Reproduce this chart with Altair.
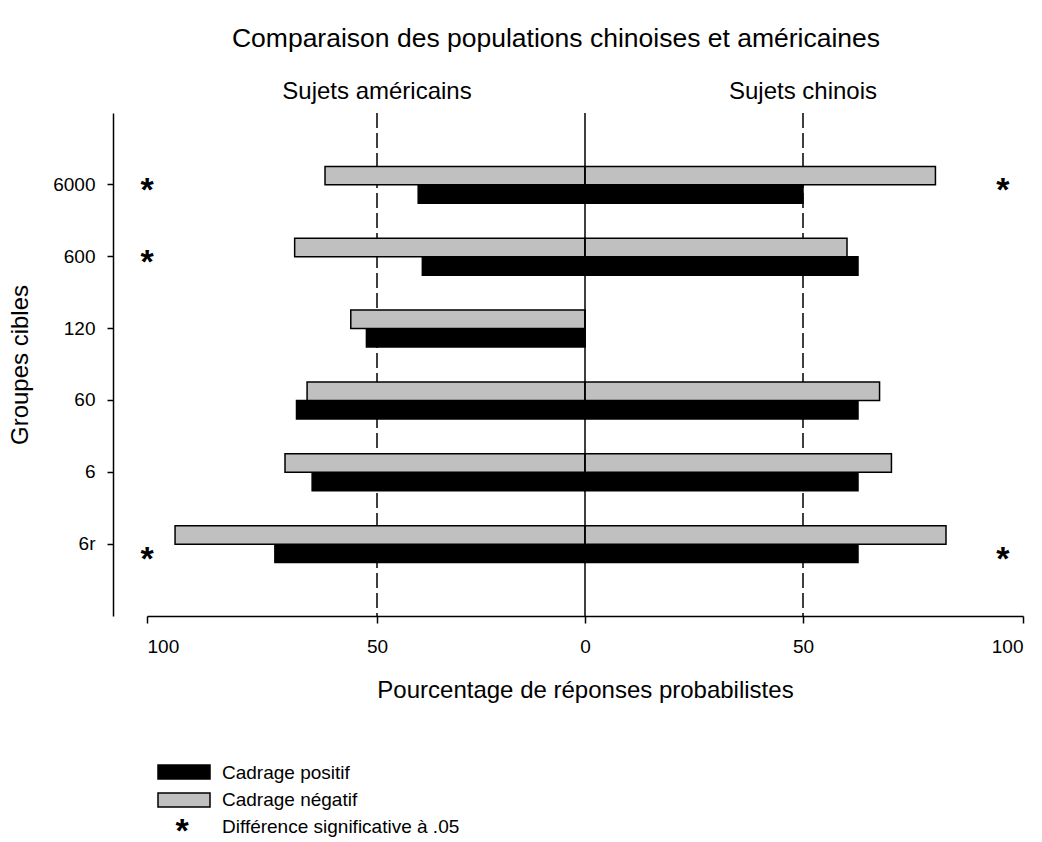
import altair as alt
import pandas as pd

# Target groups, top to bottom
groupes = ["6000", "600", "120", "60", "6", "6r"]

# Percentage of probabilistic answers
americains_positif = [40.1, 39.1, 52.3, 67.5, 64.1, 72.2]
americains_negatif = [61.3, 67.9, 55.7, 65.2, 70.0, 93.9]
chinois_positif = [50.0, 62.5, 0.0, 62.5, 62.5, 62.5]
chinois_negatif = [80.1, 60.0, 0.0, 67.4, 70.1, 82.5]

# Rows with a significant difference (.05), per side
signif_americains = ["6000", "600", "6r"]
signif_chinois = ["6000", "6r"]

cadrages = ["Cadrage négatif", "Cadrage positif"]
couleurs = ["#c0c0c0", "#000000"]
legende_signif = "Différence significative à .05"

rows = []
for i, g in enumerate(groupes):
    rows.append({"groupe": g, "cadrage": "Cadrage positif", "valeur": -americains_positif[i]})
    rows.append({"groupe": g, "cadrage": "Cadrage négatif", "valeur": -americains_negatif[i]})
    rows.append({"groupe": g, "cadrage": "Cadrage positif", "valeur": chinois_positif[i]})
    rows.append({"groupe": g, "cadrage": "Cadrage négatif", "valeur": chinois_negatif[i]})
bars_df = pd.DataFrame(rows)

stars_df = pd.DataFrame(
    [{"groupe": g, "valeur": -100} for g in signif_americains]
    + [{"groupe": g, "valeur": 95.4} for g in signif_chinois]
)
stars_df["etoile"] = "*"

headers_df = pd.DataFrame({"valeur": [-50, 50], "texte": ["Sujets américains", "Sujets chinois"]})
guides_df = pd.DataFrame({"valeur": [-50, 50]})
zero_df = pd.DataFrame({"valeur": [0]})

FONT = "Liberation Sans"

x_scale = alt.Scale(domain=[-100, -50, 0, 50, 100], range=[0, 230, 438, 656, 876])
y_scale = alt.Scale(domain=groupes, paddingInner=0.486, paddingOuter=0.743)

x_axis = alt.Axis(
    values=[-100, -50, 0, 50, 100],
    labelExpr="abs(datum.value)",
    title="Pourcentage de réponses probabilistes",
    grid=False,
    tickSize=7,
    labelPadding=14,
    labelFontSize=19,
    titleFontSize=24,
    titleFontWeight="normal",
    titlePadding=22,
    domainColor="black",
    tickColor="black",
    labelColor="black",
    titleColor="black",
    domainWidth=1.5,
    tickWidth=1.5,
)
y_axis = alt.Axis(
    title="Groupes cibles",
    offset=34,
    grid=False,
    tickSize=6,
    labelPadding=12,
    labelFontSize=19,
    titleFontSize=24,
    titleFontWeight="normal",
    titlePadding=20,
    domainColor="black",
    tickColor="black",
    labelColor="black",
    titleColor="black",
    domainWidth=1.5,
    tickWidth=1.5,
)

guides = alt.Chart(guides_df).mark_rule(
    color="black", strokeWidth=1.5, strokeDash=[15, 5]
).encode(x=alt.X("valeur:Q", scale=x_scale, axis=x_axis))

bars = alt.Chart(bars_df).mark_bar(stroke="black", strokeWidth=1.5).encode(
    x=alt.X("valeur:Q", scale=x_scale, axis=x_axis),
    y=alt.Y("groupe:N", scale=y_scale, sort=groupes, axis=y_axis),
    yOffset=alt.YOffset("cadrage:N", sort=cadrages, scale=alt.Scale(paddingInner=0, paddingOuter=0)),
    color=alt.Color("cadrage:N", scale=alt.Scale(domain=cadrages, range=couleurs), legend=None),
)

zero = alt.Chart(zero_df).mark_rule(color="black", strokeWidth=1.5).encode(
    x=alt.X("valeur:Q", scale=x_scale)
)

star_top = alt.Chart(stars_df).transform_filter(alt.datum.groupe != "6r").mark_text(
    font=FONT, fontSize=34, fontWeight="bold", baseline="alphabetic", dy=16, color="black"
).encode(
    x=alt.X("valeur:Q", scale=x_scale),
    y=alt.Y("groupe:N", scale=y_scale, sort=groupes),
    text="etoile:N",
)
star_low = alt.Chart(stars_df).transform_filter(alt.datum.groupe == "6r").mark_text(
    font=FONT, fontSize=34, fontWeight="bold", baseline="alphabetic", dy=26, color="black"
).encode(
    x=alt.X("valeur:Q", scale=x_scale),
    y=alt.Y("groupe:N", scale=y_scale, sort=groupes),
    text="etoile:N",
)

headers = alt.Chart(headers_df).mark_text(
    font=FONT, fontSize=24, baseline="middle", align="center", color="black"
).encode(x=alt.X("valeur:Q", scale=x_scale), y=alt.value(-21), text="texte:N")


# Legend, drawn below the x-axis title
def legend_box(label, fill, top):
    return alt.Chart(pd.DataFrame({"t": [label]})).mark_rect(
        fill=fill, stroke="black", strokeWidth=1.5
    ).encode(x=alt.value(11), x2=alt.value(63), y=alt.value(top), y2=alt.value(top + 14))


def legend_text(label, y, x=75, size=19, bold=False, baseline="middle", align="left"):
    return alt.Chart(pd.DataFrame({"t": [label]})).mark_text(
        font=FONT, fontSize=size, fontWeight="bold" if bold else "normal",
        align=align, baseline=baseline, color="black",
    ).encode(x=alt.value(x), y=alt.value(y), text="t:N")


legend = [
    legend_box(cadrages[1], couleurs[1], 652),
    legend_box(cadrages[0], couleurs[0], 680),
    legend_text(cadrages[1], 660),
    legend_text(cadrages[0], 687),
    legend_text(legende_signif, 714),
    legend_text("*", 729, x=35, size=34, bold=True, baseline="alphabetic", align="center"),
]

chart = (
    alt.layer(guides, bars, zero, star_top, star_low, headers, *legend)
    .properties(
        width=876,
        height=503,
        padding={"left": 8, "top": 25, "right": 5, "bottom": 6},
        title=alt.Title(
            "Comparaison des populations chinoises et américaines",
            fontSize=26.5,
            fontWeight="normal",
            font=FONT,
            color="black",
            anchor="middle",
            dx=-29,
            offset=28,
        ),
    )
    .configure(font=FONT)
    .configure_view(stroke=None)
    .configure_axis(labelFont=FONT, titleFont=FONT)
)

chart.save("out.html", embed_options={"renderer": "svg", "actions": False})
